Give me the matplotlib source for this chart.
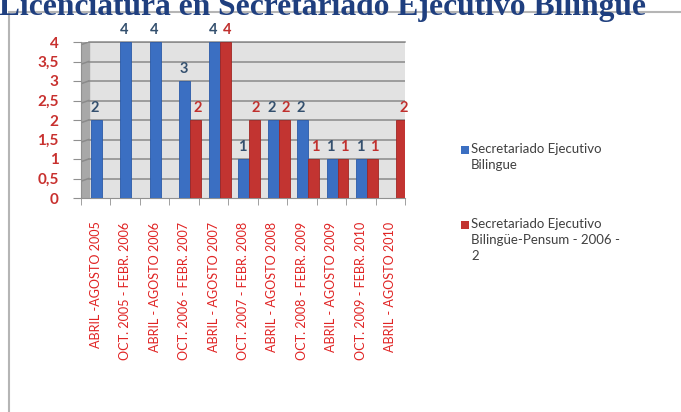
import matplotlib
matplotlib.use("Agg")
import matplotlib.pyplot as plt
from matplotlib.patches import Rectangle
import numpy as np

categories = ["ABRIL -AGOSTO 2005", "OCT. 2005 - FEBR. 2006", "ABRIL - AGOSTO 2006",
              "OCT. 2006 - FEBR. 2007", "ABRIL - AGOSTO 2007", "OCT. 2007 - FEBR. 2008",
              "ABRIL - AGOSTO 2008", "OCT. 2008 - FEBR. 2009", "ABRIL - AGOSTO 2009",
              "OCT. 2009 - FEBR. 2010", "ABRIL - AGOSTO 2010"]
blue_vals = [2, 4, 4, 3, 4, 1, 2, 2, 1, 1, 0]
red_vals = [0, 0, 0, 2, 4, 2, 2, 1, 1, 1, 2]
series_names = ["Secretariado Ejecutivo\nBilingue",
                "Secretariado Ejecutivo\nBilingüe-Pensum - 2006 -\n2"]
yticks = [0, 0.5, 1, 1.5, 2, 2.5, 3, 3.5, 4]
ytick_labels = ["0", "0,5", "1", "1,5", "2", "2,5", "3", "3,5", "4"]
title = "Licenciatura en Secretariado Ejecutivo Bilingüe"

W, H = 681, 412
fig = plt.figure(figsize=(W / 100, H / 100), dpi=100)
fig.patch.set_facecolor("white")

# outer frame
fig.add_artist(Rectangle((9 / W, -0.05), 1.0, 1 - 12 / H + 0.05, transform=fig.transFigure,
                         facecolor="white", edgecolor="#b5b5b5", lw=1.5, zorder=-10))

# clipped title
fig.text(-0.002, 1 - 15 / H, title, fontsize=22.7, fontweight="bold", family="Liberation Serif",
         color="#1f3f7f", ha="left", va="baseline")

ax = fig.add_axes([81 / W, 1 - 198 / H, (405 - 81) / W, (198 - 42) / H])
ax.set_facecolor("#e2e2e2")
x = np.arange(len(categories))
ax.set_xlim(-0.5, len(categories) - 0.5)
ax.set_ylim(0, 4)

# side wall
ax.axvspan(-0.5, -0.24, color="#a8a8a8", zorder=1)
for yv in yticks[1:]:
    ax.plot([-0.24, len(categories) - 0.5], [yv, yv], color="#8a8a8a", lw=1.1, zorder=1)
    ax.plot([-0.5, -0.24], [yv - 0.07, yv], color="#8a8a8a", lw=1.1, zorder=1)

bw = 0.37
ax.bar(x - 0.16, blue_vals, width=bw, align="edge", color="#3b6fc2", edgecolor="#2a5aa8",
       lw=0.6, zorder=3)
ax.bar(x + 0.21, red_vals, width=bw, align="edge", color="#c23431", edgecolor="#a02623",
       lw=0.6, zorder=3)

for i in range(len(categories)):
    if blue_vals[i] > 0:
        ax.text(x[i] - 0.16 + bw / 2 - 0.05, blue_vals[i] + 0.12, str(blue_vals[i]), ha="center",
                va="bottom", fontsize=10.5, fontweight="bold", color="#34506e", family="Lato",
                clip_on=False)
    if red_vals[i] > 0:
        ax.text(x[i] + 0.21 + bw / 2 + 0.05, red_vals[i] + 0.12, str(red_vals[i]), ha="center",
                va="bottom", fontsize=10.5, fontweight="bold", color="#c0302e", family="Lato",
                clip_on=False)

ax.set_yticks(yticks)
ax.set_yticklabels(ytick_labels, color="#c8302e", fontsize=11, fontweight="bold", family="Lato")
ax.set_xticks(x)
ax.set_xticklabels(categories, rotation=90, color="#e02424", fontsize=9.1, family="Lato")
ax.set_xticks(np.arange(len(categories) + 1) - 0.5, minor=True)
ax.tick_params(axis="x", which="major", length=0, pad=17)
ax.tick_params(axis="x", which="minor", length=5, color="#909090", direction="out")
ax.tick_params(axis="y", length=6, color="#909090", pad=10)
for s in ["top", "right"]:
    ax.spines[s].set_visible(False)
ax.spines["left"].set_color("#909090")
ax.spines["bottom"].set_color("#909090")
ax.plot([-0.24, len(categories) - 0.5], [4, 4], color="#8a8a8a", lw=1.1, zorder=1, clip_on=False)

# legend
leg_items = [("#3b6fc2", series_names[0], 150), ("#c23431", series_names[1], 225)]
for col, name, ypx in leg_items:
    fig.add_artist(Rectangle((461 / W, 1 - (ypx + 4) / H), 8 / W, 8 / H,
                             transform=fig.transFigure, facecolor=col, edgecolor="none"))
    fig.text(471 / W, 1 - (ypx - 7) / H, name, fontsize=9.5, family="Lato", color="#404040",
             ha="left", va="top", linespacing=1.4)

fig.savefig("out.png", dpi=100)
